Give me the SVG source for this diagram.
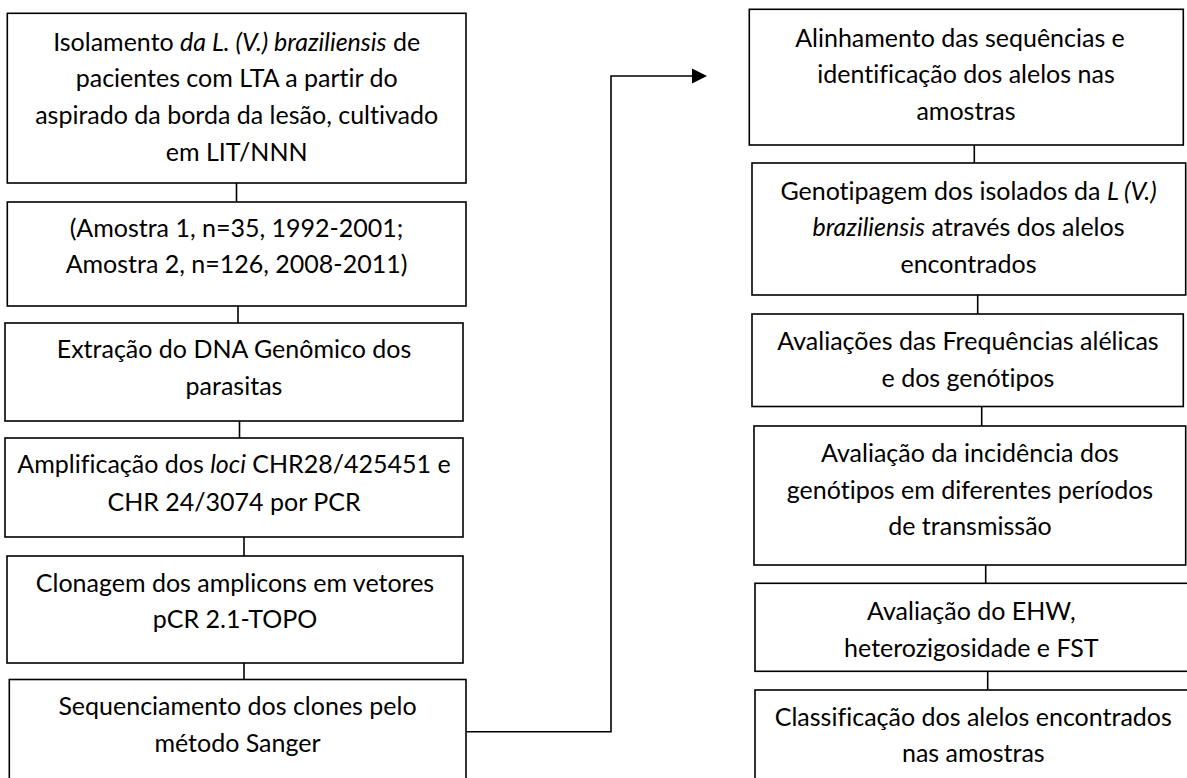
<svg xmlns="http://www.w3.org/2000/svg" width="1187" height="778" viewBox="0 0 1187 778">
<style>
.box{fill:#fff;stroke:#000;stroke-width:1.6}
.lbl{font-family:Lato,"Liberation Sans",sans-serif;font-size:25px;fill:#000;text-anchor:middle;font-variant-ligatures:none}
.it{font-style:italic}
.con{fill:none;stroke:#000;stroke-width:1.6}
</style>
<rect width="1187" height="778" fill="#fff"/>
<g id="connectors">
<line class="con" x1="236.5" y1="183" x2="236.5" y2="202"/>
<line class="con" x1="238" y1="306" x2="238" y2="323"/>
<line class="con" x1="239.5" y1="421" x2="239.5" y2="438"/>
<line class="con" x1="244" y1="537" x2="244" y2="556"/>
<line class="con" x1="244" y1="663" x2="244" y2="679"/>
<polyline class="con" points="466,731.7 611,731.7 611,76 693,76"/>
<polygon points="692,68.5 707,76 692,83.5" fill="#000"/>
<line class="con" x1="974.3" y1="145" x2="974.3" y2="163"/>
<line class="con" x1="977.7" y1="295" x2="977.7" y2="314"/>
<line class="con" x1="981.7" y1="406" x2="981.7" y2="426"/>
<line class="con" x1="985.7" y1="565" x2="985.7" y2="583"/>
<line class="con" x1="987.7" y1="671" x2="987.7" y2="690"/>
</g>
<g id="n1">
<rect class="box" x="7.3" y="13.3" width="458.7" height="169.7"/>
<text class="lbl" x="236.7" y="50.7">Isolamento <tspan class="it">da L. (V.) braziliensis</tspan> de</text>
<text class="lbl" x="236.7" y="87.3">pacientes com LTA a partir do</text>
<text class="lbl" x="236.7" y="124">aspirado da borda da lesão, cultivado</text>
<text class="lbl" x="236.7" y="160.7">em LIT/NNN</text>
</g>
<g id="n2">
<rect class="box" x="7.3" y="202" width="458.7" height="104"/>
<text class="lbl" x="236.5" y="236.7">(Amostra 1, n=35, 1992-2001;</text>
<text class="lbl" x="236.5" y="273.3">Amostra 2, n=126, 2008-2011)</text>
</g>
<g id="n3">
<rect class="box" x="5" y="323" width="458" height="98"/>
<text class="lbl" x="234" y="358.3">Extração do DNA Genômico dos</text>
<text class="lbl" x="234" y="395">parasitas</text>
</g>
<g id="n4">
<rect class="box" x="5" y="438" width="458" height="99"/>
<text class="lbl" x="234" y="473.3">Amplificação dos <tspan class="it">loci</tspan> CHR28/425451 e</text>
<text class="lbl" x="234" y="510.7">CHR 24/3074 por PCR</text>
</g>
<g id="n5">
<rect class="box" x="7" y="556" width="456" height="107"/>
<text class="lbl" x="235" y="591.7">Clonagem dos amplicons em vetores</text>
<text class="lbl" x="235" y="628.3">pCR 2.1-TOPO</text>
</g>
<g id="n6">
<rect class="box" x="9.3" y="679.5" width="456.7" height="120"/>
<text class="lbl" x="237.5" y="715">Sequenciamento dos clones pelo</text>
<text class="lbl" x="237.5" y="752.3">método Sanger</text>
</g>
<g id="n7">
<rect class="box" x="749.3" y="9.3" width="434" height="135.7"/>
<text class="lbl" x="960" y="46.7">Alinhamento das sequências e</text>
<text class="lbl" x="966" y="83.3">identificação dos alelos nas</text>
<text class="lbl" x="966" y="120">amostras</text>
</g>
<g id="n8">
<rect class="box" x="752" y="163" width="433.7" height="132"/>
<text class="lbl" x="968.5" y="199.5">Genotipagem dos isolados da <tspan class="it">L (V.)</tspan></text>
<text class="lbl" x="968.5" y="236.2"><tspan class="it">braziliensis</tspan> através dos alelos</text>
<text class="lbl" x="968.5" y="273">encontrados</text>
</g>
<g id="n9">
<rect class="box" x="752" y="314" width="431.3" height="92.5"/>
<text class="lbl" x="968" y="350">Avaliações das Frequências alélicas</text>
<text class="lbl" x="968" y="386.7">e dos genótipos</text>
</g>
<g id="n10">
<rect class="box" x="754" y="426" width="431.7" height="139"/>
<text class="lbl" x="970" y="461.7">Avaliação da incidência dos</text>
<text class="lbl" x="970" y="498.5">genótipos em diferentes períodos</text>
<text class="lbl" x="970" y="535.3">de transmissão</text>
</g>
<g id="n11">
<rect class="box" x="755" y="583.3" width="436" height="88"/>
<text class="lbl" x="971.3" y="620">Avaliação do EHW,</text>
<text class="lbl" x="971.3" y="656.7">heterozigosidade e FST</text>
</g>
<g id="n12">
<rect class="box" x="755" y="690" width="440" height="110"/>
<text class="lbl" x="973.3" y="725.5">Classificação dos alelos encontrados</text>
<text class="lbl" x="973.3" y="762">nas amostras</text>
</g>
</svg>
